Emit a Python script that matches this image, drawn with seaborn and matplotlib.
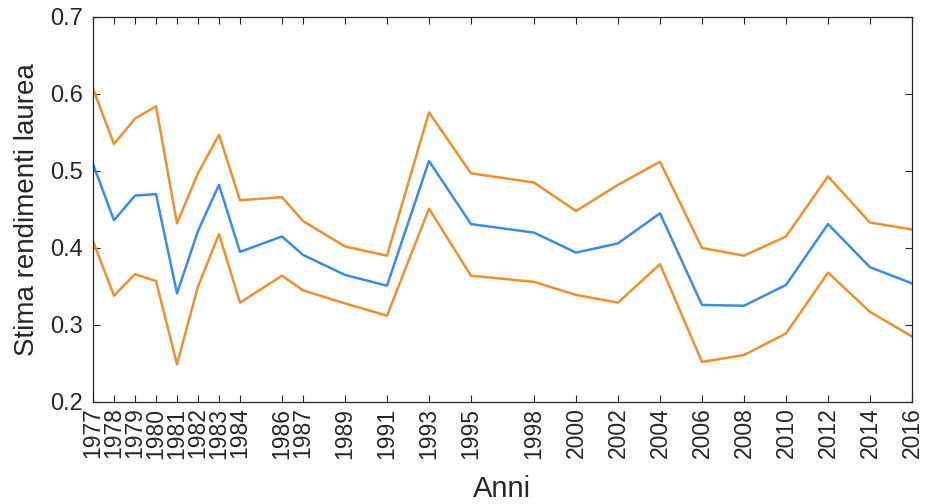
import pandas as pd
import seaborn as sns
import matplotlib.pyplot as plt

# dati
anni = [1977, 1978, 1979, 1980, 1981, 1982, 1983, 1984, 1986, 1987, 1989, 1991,
        1993, 1995, 1998, 2000, 2002, 2004, 2006, 2008, 2010, 2012, 2014, 2016]
stima = [0.509, 0.436, 0.468, 0.470, 0.341, 0.422, 0.482, 0.395, 0.415, 0.391, 0.365, 0.351,
         0.513, 0.431, 0.420, 0.394, 0.406, 0.445, 0.326, 0.325, 0.352, 0.431, 0.375, 0.354]
superiore = [0.607, 0.535, 0.568, 0.584, 0.432, 0.497, 0.547, 0.462, 0.466, 0.435, 0.402, 0.390,
             0.576, 0.497, 0.485, 0.448, 0.482, 0.512, 0.400, 0.390, 0.415, 0.493, 0.433, 0.424]
inferiore = [0.409, 0.338, 0.366, 0.357, 0.249, 0.350, 0.418, 0.329, 0.364, 0.345, 0.328, 0.312,
             0.451, 0.364, 0.356, 0.339, 0.329, 0.379, 0.252, 0.261, 0.289, 0.368, 0.317, 0.285]
yticks = [0.2, 0.3, 0.4, 0.5, 0.6, 0.7]

df = pd.DataFrame({'anno': anni, 'stima': stima, 'sup': superiore, 'inf': inferiore})

sns.set_theme(style='ticks')
plt.rcParams['font.family'] = ['Liberation Sans', 'DejaVu Sans']

fig = plt.figure(figsize=(9.29, 5.04), dpi=100)
ax = fig.add_axes([0.1001, 0.2024, 0.8816, 0.7639])

blu = '#3a8de4'
arancio = '#f0902b'
sns.lineplot(data=df, x='anno', y='sup', color=arancio, linewidth=1.8, ax=ax)
sns.lineplot(data=df, x='anno', y='inf', color=arancio, linewidth=1.8, ax=ax)
sns.lineplot(data=df, x='anno', y='stima', color=blu, linewidth=1.8, ax=ax)

ax.set_xlim(1977, 2016)
ax.set_ylim(0.2, 0.7)
ax.set_xticks(anni)
ax.set_xticklabels([str(a) for a in anni], rotation=90)
ax.set_yticks(yticks)
ax.set_yticklabels([f'{v:.1f}' for v in yticks])
ax.tick_params(direction='in', length=5, width=0.8, colors='#262626',
               top=True, right=True, labelcolor='#262626')
ax.tick_params(axis='x', labelsize=16.5, pad=4)
ax.tick_params(axis='y', labelsize=17, pad=7.5)
for s in ax.spines.values():
    s.set_visible(True)
    s.set_color('#262626')
    s.set_linewidth(0.9)

ax.set_xlabel('Anni', fontsize=21, color='#262626', labelpad=12)
ax.set_ylabel('Stima rendimenti laurea', fontsize=20, color='#262626', labelpad=7)

fig.savefig('out.png', dpi=100)
